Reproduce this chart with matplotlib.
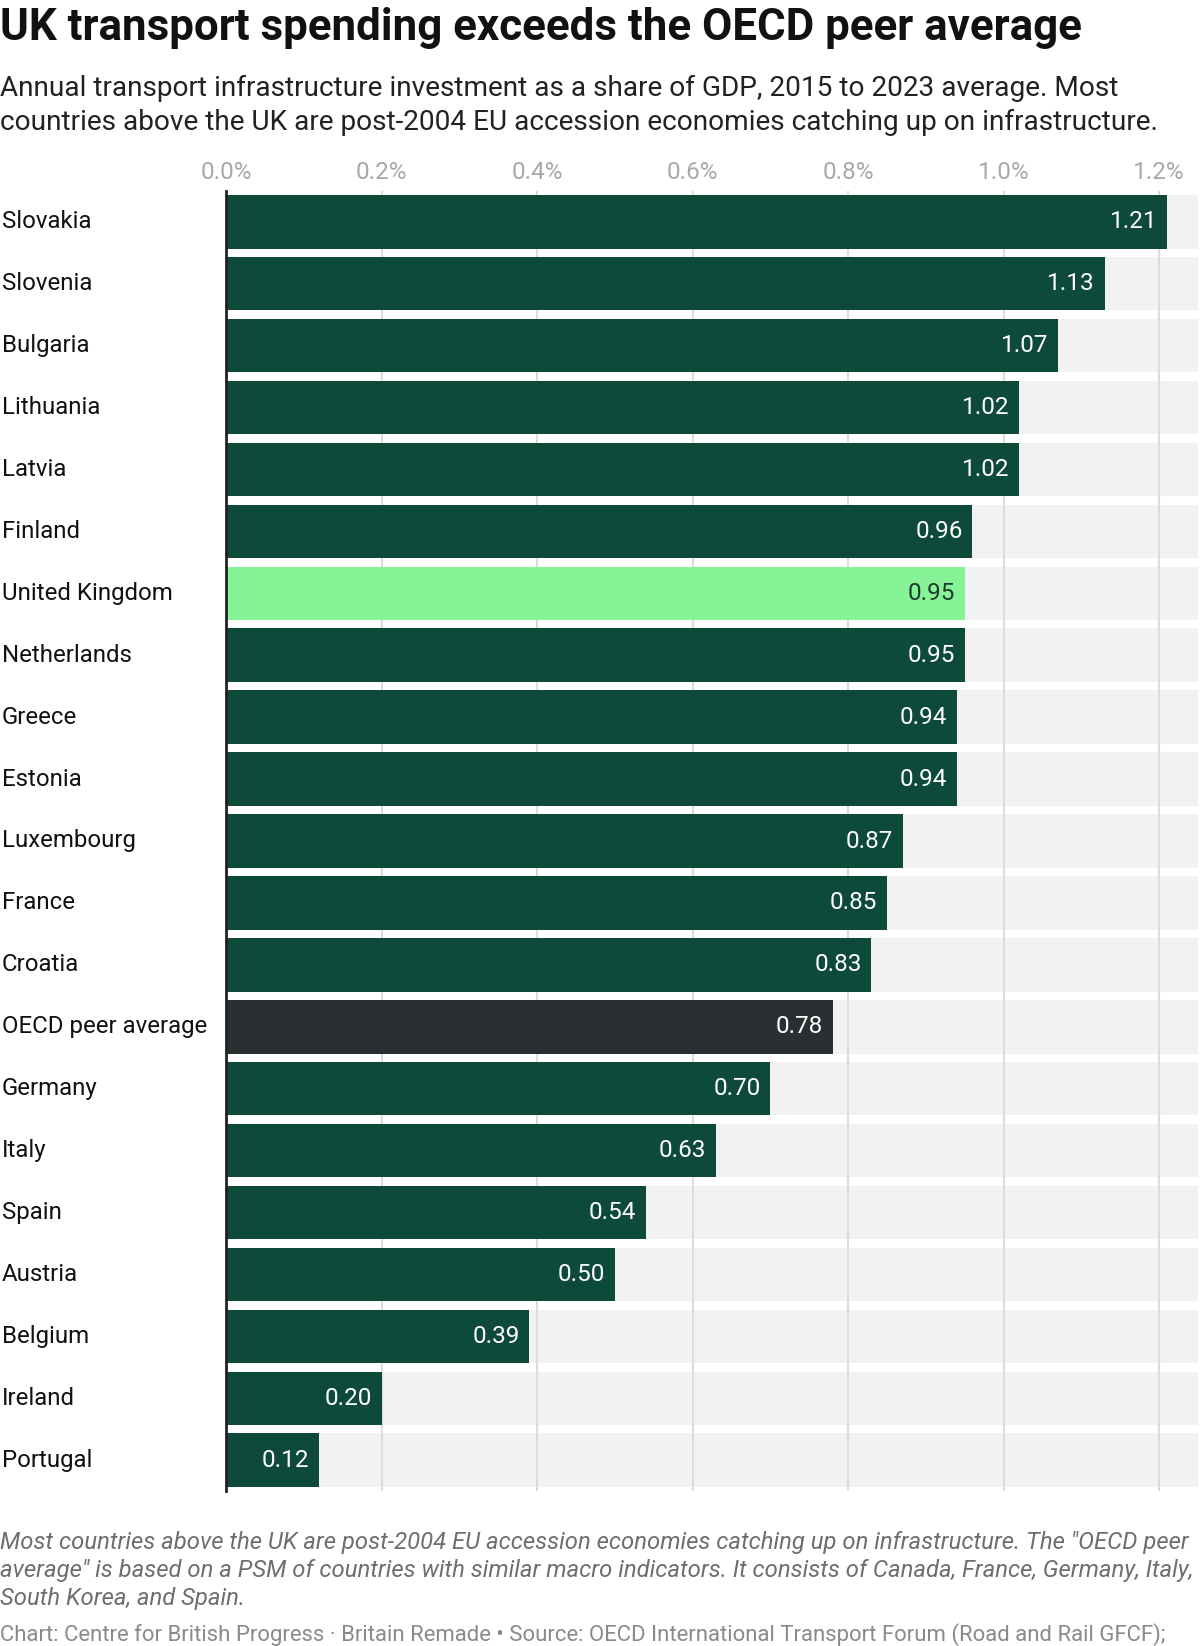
import matplotlib
matplotlib.use("Agg")
import matplotlib.pyplot as plt
from matplotlib.transforms import blended_transform_factory

countries = ["Slovakia", "Slovenia", "Bulgaria", "Lithuania", "Latvia", "Finland",
             "United Kingdom", "Netherlands", "Greece", "Estonia", "Luxembourg",
             "France", "Croatia", "OECD peer average", "Germany", "Italy", "Spain",
             "Austria", "Belgium", "Ireland", "Portugal"]
values = [1.21, 1.13, 1.07, 1.02, 1.02, 0.96, 0.95, 0.95, 0.94, 0.94, 0.87,
          0.85, 0.83, 0.78, 0.70, 0.63, 0.54, 0.50, 0.39, 0.20, 0.12]
xticks = [0.0, 0.2, 0.4, 0.6, 0.8, 1.0, 1.2]
xtick_labels = ["0.0%", "0.2%", "0.4%", "0.6%", "0.8%", "1.0%", "1.2%"]

DARK = "#0d4a3a"
UK = "#86f396"
AVG = "#2a3032"

plt.rcParams['font.family'] = ['Roboto', 'DejaVu Sans']

W, H = 1200, 1646
fig = plt.figure(figsize=(W / 100, H / 100), dpi=100)
ax = fig.add_axes([226 / W, 1 - 1491.2 / H, 972 / W, (1491.2 - 190.8) / H])

n = len(countries)
ypos = list(range(n))
xmax = 1.25
bh = 0.865

# background bands
ax.barh(ypos, [xmax] * n, height=bh, color="#f2f2f2", zorder=0, linewidth=0)
for t in xticks:
    ax.axvline(t, color="#dcdcdc", lw=1.5, zorder=1)

colors = []
for c in countries:
    if c == "United Kingdom":
        colors.append(UK)
    elif c == "OECD peer average":
        colors.append(AVG)
    else:
        colors.append(DARK)
ax.barh(ypos, values, height=bh, color=colors, zorder=2, linewidth=0)

for y, v, c in zip(ypos, values, countries):
    tc = "#1f3a30" if c == "United Kingdom" else "white"
    ax.annotate(f"{v:.2f}", xy=(v, y), xytext=(-7, 0), textcoords="offset points",
                ha="right", va="center", fontsize=17.5, color=tc, zorder=3)

ax.set_xlim(0, xmax)
ax.set_ylim(n - 0.5, -0.5)
ax.set_yticks([])
ax.set_xticks(xticks)
ax.set_xticklabels(xtick_labels)
ax.tick_params(axis="x", top=True, labeltop=True, bottom=False, labelbottom=False,
               length=0, pad=5, labelsize=17.5, labelcolor="#a8a8a8")
for s in ["top", "right", "bottom"]:
    ax.spines[s].set_visible(False)
ax.spines["left"].set_color("#222222")
ax.spines["left"].set_linewidth(2)
ax.spines["left"].set_zorder(4)

tr = blended_transform_factory(fig.transFigure, ax.transData)
for y, c in zip(ypos, countries):
    ax.text(2 / W, y, c, transform=tr, ha="left", va="center", fontsize=17.3, color="#111111")

fig.text(0 / W, 1 - 28 / H, "UK transport spending exceeds the OECD peer average",
         ha="left", va="center", fontsize=31.6, fontweight="bold", color="#111111")
fig.text(0 / W, 1 - 88.5 / H,
         "Annual transport infrastructure investment as a share of GDP, 2015 to 2023 average. Most",
         ha="left", va="center", fontsize=20.2, color="#222222")
fig.text(0 / W, 1 - 122 / H,
         "countries above the UK are post-2004 EU accession economies catching up on infrastructure.",
         ha="left", va="center", fontsize=20.2, color="#222222")

foot = ["Most countries above the UK are post-2004 EU accession economies catching up on infrastructure. The \"OECD peer",
        "average\" is based on a PSM of countries with similar macro indicators. It consists of Canada, France, Germany, Italy,",
        "South Korea, and Spain."]
for i, line in enumerate(foot):
    fig.text(0, 1 - (1543 + 28 * i) / H, line, ha="left", va="center", fontsize=17.2,
             style="italic", color="#6e6e6e")
fig.text(0, 1 - 1635 / H,
         "Chart: Centre for British Progress \u00b7 Britain Remade \u2022 Source: OECD International Transport Forum (Road and Rail GFCF);",
         ha="left", va="center", fontsize=15.9, color="#8a8a8a")

fig.savefig("out.png", dpi=100)
